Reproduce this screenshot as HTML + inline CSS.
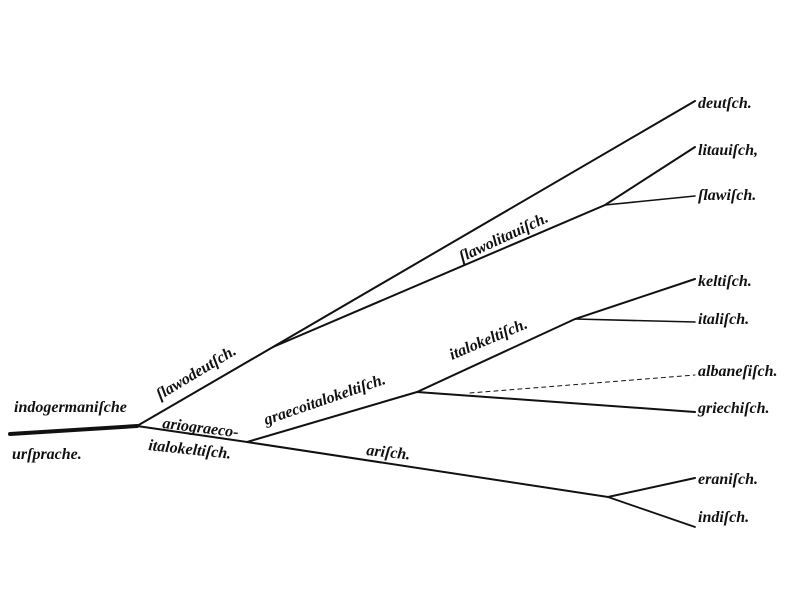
<!DOCTYPE html>
<html><head><meta charset="utf-8"><style>
html,body{margin:0;padding:0;background:#fff;}
svg text{font-family:"Liberation Serif",serif;font-style:italic;font-weight:bold;font-size:16px;fill:#111;}
</style></head><body>
<svg width="800" height="600" viewBox="0 0 800 600" xmlns="http://www.w3.org/2000/svg">
<rect width="800" height="600" fill="#fff"/>
<g stroke="#111" fill="none" stroke-linecap="round">
<path d="M10 434 L137 426" stroke-width="4"/>
<path d="M137 426 L273 347 L695 101" stroke-width="2"/>
<path d="M273 347 L605 205 L695 147" stroke-width="2"/>
<path d="M605 205 L695 196" stroke-width="1.6"/>
<path d="M137 426 L247 442 L417 392 L575 319 L695 279" stroke-width="2"/>
<path d="M575 319 L695 322" stroke-width="1.6"/>
<path d="M417 392 L695 412" stroke-width="2"/>
<path d="M470 393 L695 375" stroke-width="1" stroke-dasharray="4 4"/>
<path d="M247 442 L608 497 L695 478" stroke-width="2"/>
<path d="M608 497 L695 527" stroke-width="1.8"/>
</g>
<text x="698" y="108">deutſch.</text>
<text x="698" y="155">litauiſch,</text>
<text x="698" y="200">ſlawiſch.</text>
<text x="698" y="286">keltiſch.</text>
<text x="698" y="324">italiſch.</text>
<text x="698" y="376">albaneſiſch.</text>
<text x="698" y="413">griechiſch.</text>
<text x="698" y="484">eraniſch.</text>
<text x="698" y="522">indiſch.</text>
<text x="14" y="412">indogermaniſche</text>
<text x="12" y="459">urſprache.</text>
<text transform="translate(366 455) rotate(6)">ariſch.</text>
<text transform="translate(160 400) rotate(-31)">ſlawodeutſch.</text>
<text transform="translate(462 262) rotate(-25)">ſlawolitauiſch.</text>
<text transform="translate(452 360) rotate(-23)">italokeltiſch.</text>
<text transform="translate(266 425) rotate(-19)">graecoitalokeltiſch.</text>
<text transform="translate(162 428) rotate(7)">ariograeco-</text>
<text transform="translate(148 450) rotate(6)">italokeltiſch.</text>
</svg>
</body></html>
